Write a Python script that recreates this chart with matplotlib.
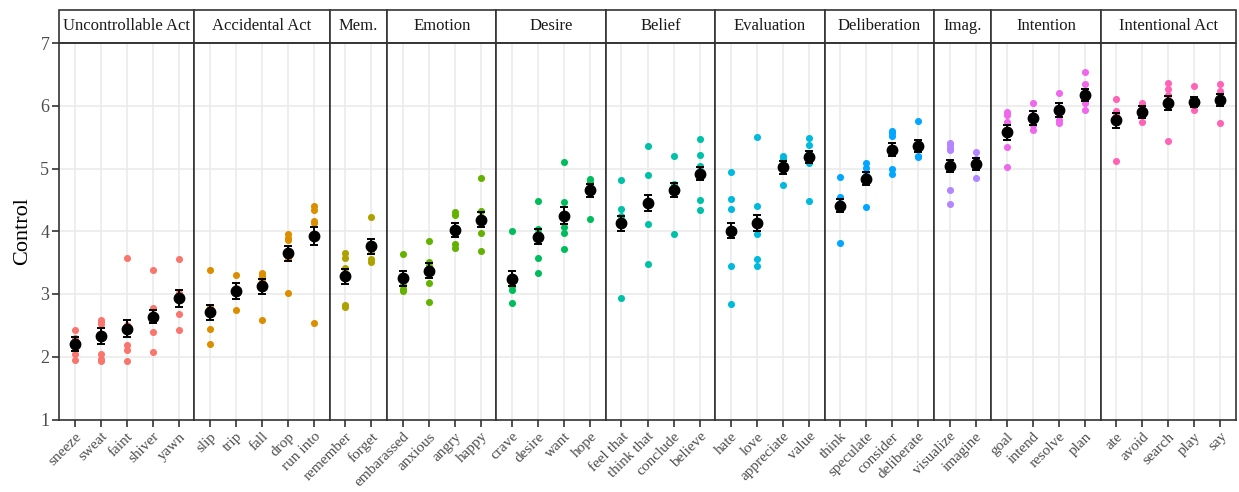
import matplotlib
matplotlib.use("Agg")
import matplotlib.pyplot as plt
from matplotlib.patches import Rectangle

plt.rcParams["font.family"] = ["Liberation Serif", "DejaVu Serif"]

# facets and their verbs, left to right
facets = ["Uncontrollable Act", "Accidental Act", "Mem.", "Emotion", "Desire",
          "Belief", "Evaluation", "Deliberation", "Imag.", "Intention",
          "Intentional Act"]
facet_sizes = [5, 5, 2, 4, 4, 4, 4, 4, 2, 4, 5]
facet_colors = ["#F8766D", "#DB8E00", "#AEA200", "#64B200", "#00BD5C", "#00C1A7",
                "#00BADE", "#00A6FF", "#B385FF", "#EF67EB", "#FF63B6"]

words = ["sneeze", "sweat", "faint", "shiver", "yawn",
         "slip", "trip", "fall", "drop", "run into",
         "remember", "forget",
         "embarassed", "anxious", "angry", "happy",
         "crave", "desire", "want", "hope",
         "feel that", "think that", "conclude", "believe",
         "hate", "love", "appreciate", "value",
         "think", "speculate", "consider", "deliberate",
         "visualize", "imagine",
         "goal", "intend", "resolve", "plan",
         "ate", "avoid", "search", "play", "say"]

means = [2.20, 2.33, 2.45, 2.64, 2.93,
         2.71, 3.05, 3.12, 3.65, 3.92,
         3.28, 3.76,
         3.25, 3.37, 4.02, 4.18,
         3.24, 3.91, 4.25, 4.65,
         4.13, 4.45, 4.66, 4.92,
         4.01, 4.13, 5.02, 5.18,
         4.41, 4.84, 5.30, 5.36,
         5.04, 5.07,
         5.58, 5.80, 5.93, 6.17,
         5.77, 5.90, 6.04, 6.06, 6.09]

ses = [0.11, 0.13, 0.13, 0.11, 0.13,
       0.12, 0.13, 0.12, 0.12, 0.14,
       0.12, 0.12,
       0.12, 0.12, 0.11, 0.12,
       0.12, 0.12, 0.13, 0.10,
       0.12, 0.12, 0.11, 0.11,
       0.12, 0.13, 0.10, 0.10,
       0.10, 0.10, 0.10, 0.10,
       0.09, 0.09,
       0.12, 0.11, 0.11, 0.09,
       0.12, 0.09, 0.11, 0.08, 0.09]

item_scores = [
    [2.42, 2.30, 2.12, 2.05, 1.95],
    [2.58, 2.55, 2.52, 2.04, 1.97, 1.94],
    [3.57, 2.50, 2.18, 2.10, 1.93],
    [3.38, 2.78, 2.60, 2.40, 2.07],
    [3.56, 3.02, 2.68, 2.43],
    [3.38, 2.80, 2.45, 2.21],
    [3.31, 3.10, 2.74],
    [3.33, 3.29, 3.20, 2.58],
    [3.95, 3.89, 3.86, 3.57, 3.01],
    [4.41, 4.34, 4.17, 4.13, 2.53],
    [3.65, 3.57, 3.41, 2.83, 2.79],
    [4.23, 3.80, 3.68, 3.56, 3.51],
    [3.64, 3.15, 3.08, 3.05],
    [3.84, 3.51, 3.44, 3.17, 2.87],
    [4.30, 4.26, 3.95, 3.79, 3.74],
    [4.85, 4.33, 4.20, 3.97, 3.69],
    [4.01, 3.12, 3.07, 2.85],
    [4.49, 4.04, 3.95, 3.57, 3.33],
    [5.11, 4.47, 4.07, 3.97, 3.71],
    [4.83, 4.78, 4.70, 4.20],
    [4.82, 4.35, 4.25, 2.94],
    [5.36, 4.90, 4.11, 3.48],
    [5.20, 4.76, 4.62, 3.96],
    [5.47, 5.22, 5.04, 4.50, 4.34],
    [4.95, 4.51, 4.35, 3.45, 2.84],
    [5.50, 4.41, 3.95, 3.55, 3.45],
    [5.20, 5.15, 5.00, 4.73],
    [5.49, 5.38, 5.25, 5.08, 4.49],
    [4.87, 4.55, 4.45, 3.81],
    [5.09, 5.01, 4.90, 4.38],
    [5.60, 5.57, 5.52, 5.00, 4.91],
    [5.76, 5.40, 5.20, 5.18],
    [5.40, 5.37, 5.33, 5.30, 4.66, 4.43],
    [5.27, 5.15, 4.85],
    [5.90, 5.86, 5.74, 5.34, 5.03],
    [6.04, 5.85, 5.69, 5.61],
    [6.20, 5.93, 5.78, 5.72],
    [6.53, 6.34, 6.05, 5.93],
    [6.10, 5.92, 5.85, 5.12],
    [6.05, 6.00, 5.90, 5.74],
    [6.37, 6.26, 6.17, 6.00, 5.44],
    [6.32, 6.05, 5.93],
    [6.35, 6.24, 6.10, 5.72],
]

W, H = 1239, 492
fig, axes = plt.subplots(
    1, len(facets), figsize=(W / 100, H / 100), dpi=100,
    gridspec_kw=dict(width_ratios=[n + 0.2 for n in facet_sizes], wspace=0))
fig.subplots_adjust(left=59 / W, right=1236 / W, top=1 - 43 / H, bottom=1 - 419.5 / H)

frame = "#333333"
grid = "#EBEBEB"
strip_h = 33 / 376.5  # strip height in axes fraction

start = 0
for k, ax in enumerate(axes):
    n = facet_sizes[k]
    idx = range(start, start + n)
    start += n
    xs = list(range(1, n + 1))

    for x, i in zip(xs, idx):
        ax.scatter([x] * len(item_scores[i]), item_scores[i], s=26,
                   color=facet_colors[k], linewidths=0, zorder=3)
    ax.errorbar(xs, [means[i] for i in idx], yerr=[ses[i] for i in idx],
                fmt="o", color="black", ms=7.5, capsize=2.8, elinewidth=1.4,
                capthick=1.4, zorder=4)

    ax.set_xlim(0.4, n + 0.6)
    ax.set_ylim(1, 7)
    ax.set_xticks(xs)
    ax.set_xticklabels([words[i] for i in idx], rotation=45, ha="right",
                       rotation_mode="anchor", fontsize=11, color="#4D4D4D")
    ax.set_yticks(range(1, 8))
    ax.grid(True, color=grid, lw=1.2, zorder=0)
    ax.set_axisbelow(True)
    ax.tick_params(axis="x", length=5, width=1.2, color=frame, pad=2.5)
    if k == 0:
        ax.tick_params(axis="y", length=5, width=1.2, color=frame,
                       labelsize=13, labelcolor="#4D4D4D", pad=2)
        ax.set_ylabel("Control", fontsize=16, labelpad=6)
    else:
        ax.tick_params(axis="y", length=0, labelleft=False)
    for sp in ax.spines.values():
        sp.set_color(frame)
        sp.set_linewidth(1.2)

    # facet strip
    ax.add_patch(Rectangle((0, 1), 1, strip_h, transform=ax.transAxes,
                           facecolor="white", edgecolor=frame, lw=1.2,
                           clip_on=False))
    ax.text(0.5, 1 + strip_h / 2, facets[k], transform=ax.transAxes,
            ha="center", va="center", fontsize=12, color="#1A1A1A")

fig.savefig("out.png", dpi=100)
